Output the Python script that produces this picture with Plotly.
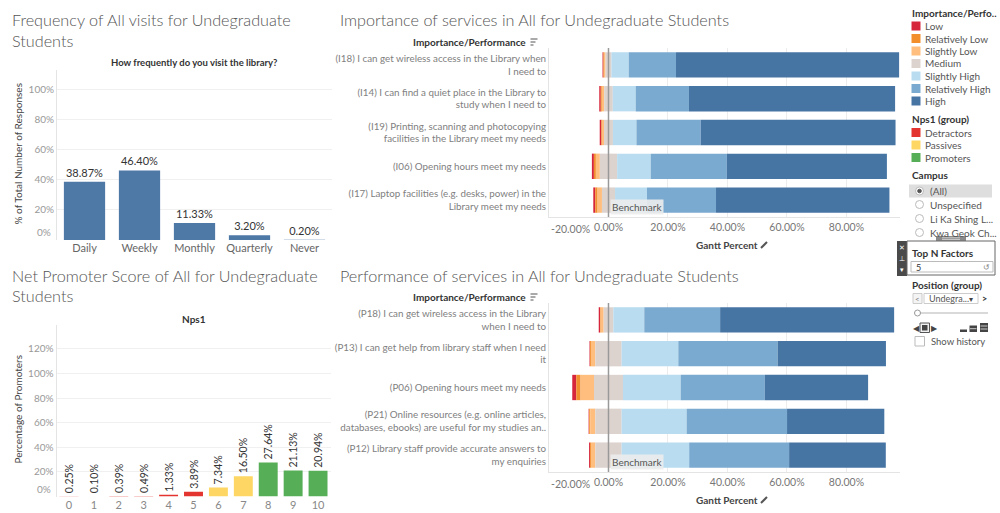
import plotly.graph_objects as go

W, H = 1000, 513
FONT = "Lato, 'Open Sans', sans-serif"

# ---------------- data ----------------
freq_cats = ["Daily", "Weekly", "Monthly", "Quarterly", "Never"]
freq_vals = [38.87, 46.40, 11.33, 3.20, 0.20]
freq_ticks = [0, 20, 40, 60, 80, 100]

nps_cats = ["0", "1", "2", "3", "4", "5", "6", "7", "8", "9", "10"]
nps_vals = [0.25, 0.10, 0.39, 0.49, 1.33, 3.89, 7.34, 16.50, 27.64, 21.13, 20.94]
nps_groups = ["Detractors"] * 6 + ["Passives"] * 2 + ["Promoters"] * 3
nps_ticks = [0, 20, 40, 60, 80, 100, 120]
nps_group_names = ["Detractors", "Passives", "Promoters"]
nps_group_colors = ["#e3342f", "#fdd663", "#56ae57"]

levels = ["Low", "Relatively Low", "Slightly Low", "Medium",
          "Slightly High", "Relatively High", "High"]
level_colors = ["#d6263c", "#f28e2b", "#ffbe7d", "#dcd3cf",
                "#b9dcf0", "#7aaad0", "#4675a4"]

imp_items = [
    "(I18) I can get wireless access in the Library when<br>I need to",
    "(I14) I can find a quiet place in the Library to<br>study when I need to",
    "(I19) Printing, scanning and photocopying<br>facilities in the Library meet my needs",
    "(I06) Opening hours meet my needs",
    "(I17) Laptop facilities (e.g. desks, power) in the<br>Library meet my needs",
]
imp_low = [0.30, 0.50, 0.55, 0.67, 0.67]
imp_rel_low = [0.20, 0.35, 0.20, 0.67, 0.78]
imp_sl_low = [0.50, 0.80, 0.70, 1.34, 1.46]
imp_medium = [2.00, 2.90, 3.00, 5.80, 4.40]
imp_sl_high = [5.80, 7.70, 7.90, 11.30, 10.75]
imp_rel_high = [15.90, 17.90, 21.60, 25.60, 23.20]
imp_high = [75.00, 69.30, 65.50, 53.80, 58.30]

perf_items = [
    "(P18) I can get wireless access in the Library<br>when I need to",
    "(P13) I can get help from library staff when I need<br>it",
    "(P06) Opening hours meet my needs",
    "(P21) Online resources (e.g. online articles,<br>databases, ebooks) are useful for my studies an..",
    "(P12) Library staff provide accurate answers to<br>my enquiries",
]
perf_low = [0.45, 0.20, 1.35, 0.20, 0.35]
perf_rel_low = [0.20, 0.30, 1.46, 0.35, 0.30]
perf_sl_low = [1.00, 1.45, 4.50, 1.70, 1.45]
perf_medium = [3.26, 8.85, 9.75, 8.85, 8.85]
perf_sl_high = [10.40, 19.05, 19.40, 21.85, 22.70]
perf_rel_high = [25.50, 33.40, 28.30, 33.75, 33.60]
perf_high = [58.50, 36.40, 34.70, 32.70, 32.50]

gantt_ticks = [-20, 0, 20, 40, 60, 80]
gantt_tick_labels = ["-20.00%", "0.00%", "20.00%", "40.00%", "60.00%", "80.00%"]

campus_options = ["(All)", "Unspecified", "Li Ka Shing L...", "Kwa Geok Ch..."]


# ---------------- helpers ----------------
def px(x):
    return x / W


def py(y):
    return 1 - y / H


fig = go.Figure()
annotations = []
shapes = []


def text(x, y, s, size=10, color="#555", xanchor="left", yanchor="middle",
         bold=False, angle=0, weight=None, **kw):
    f = dict(size=size, color=color, family=FONT)
    if weight is not None:
        f["weight"] = weight
    annotations.append(dict(
        x=px(x), y=py(y), xref="paper", yref="paper", text=(f"<b>{s}</b>" if bold else s),
        showarrow=False, xanchor=xanchor, yanchor=yanchor, textangle=angle,
        font=f, **kw))


def rect(x0, y0, x1, y1, fill="rgba(0,0,0,0)", line=None, lw=1):
    shapes.append(dict(type="rect", xref="paper", yref="paper",
                       x0=px(x0), x1=px(x1), y0=py(y1), y1=py(y0),
                       fillcolor=fill,
                       line=dict(color=line or "rgba(0,0,0,0)", width=lw if line else 0)))


def circle(cx, cy, r, fill="white", line="#bbb"):
    shapes.append(dict(type="circle", xref="paper", yref="paper",
                       x0=px(cx - r), x1=px(cx + r), y0=py(cy + r), y1=py(cy - r),
                       fillcolor=fill, line=dict(color=line, width=1)))


def hline(x0, x1, y, color="#aaa", w=1):
    shapes.append(dict(type="line", xref="paper", yref="paper",
                       x0=px(x0), x1=px(x1), y0=py(y), y1=py(y),
                       line=dict(color=color, width=w)))


# ---------------- chart 1: frequency ----------------
fig.add_trace(go.Bar(
    x=freq_cats, y=freq_vals, xaxis="x", yaxis="y",
    marker=dict(color="#4e79a7", line=dict(width=0)), width=0.75,
    text=[f"{v:.2f}%" for v in freq_vals], textposition="outside",
    textfont=dict(size=11, color="#333", family=FONT), cliponaxis=False,
    constraintext="none", hoverinfo="skip", showlegend=False))

# ---------------- chart 2: NPS ----------------
color_of = dict(zip(nps_group_names, nps_group_colors))
fig.add_trace(go.Bar(
    x=nps_cats, y=nps_vals, xaxis="x2", yaxis="y2",
    marker=dict(color=[color_of[g] for g in nps_groups], line=dict(width=0)), width=0.76,
    text=[f"{v:.2f}%" for v in nps_vals], textposition="outside", textangle=-90,
    textfont=dict(size=10.5, color="#333", family=FONT), cliponaxis=False,
    constraintext="none", hoverinfo="skip", showlegend=False))


# ---------------- gantt charts ----------------
def add_gantt(series, xa, ya):
    n = len(series[0])
    start = [-(series[0][j] + series[1][j] + series[2][j] + series[3][j] / 2) for j in range(n)]
    cum = list(start)
    for i, vals in enumerate(series):
        fig.add_trace(go.Bar(
            y=list(range(n)), x=vals, base=list(cum), orientation="h",
            xaxis=xa, yaxis=ya, width=0.75,
            marker=dict(color=level_colors[i], line=dict(width=0)),
            name=levels[i], showlegend=False, hoverinfo="skip"))
        cum = [cum[j] + vals[j] for j in range(n)]


add_gantt([imp_low, imp_rel_low, imp_sl_low, imp_medium, imp_sl_high, imp_rel_high, imp_high], "x3", "y3")
add_gantt([perf_low, perf_rel_low, perf_sl_low, perf_medium, perf_sl_high, perf_rel_high, perf_high], "x4", "y4")

# ---------------- axes ----------------
grid = "#f0f0f0"
axline = "#e4e4e4"
tick_font_gray = dict(size=10, color="#999", family=FONT)

layout_axes = dict(
    xaxis=dict(domain=[px(57), px(332)], type="category", showgrid=False, zeroline=False,
               showline=False, ticks="", tickfont=dict(size=11, color="#666", family=FONT),
               anchor="y", fixedrange=True),
    yaxis=dict(domain=[py(240), py(70)], range=[0, 113.3], tickvals=freq_ticks,
               ticktext=[("" if t == 0 else f"{t}%") for t in freq_ticks],
               gridcolor=grid, zeroline=False, showline=True, linecolor=axline,
               ticks="", tickfont=tick_font_gray, anchor="x", fixedrange=True),
    xaxis2=dict(domain=[px(56.5), px(330.5)], type="category", showgrid=False, zeroline=False,
                showline=False, ticks="", tickfont=dict(size=11, color="#888", family=FONT),
                anchor="y2", fixedrange=True),
    yaxis2=dict(domain=[py(496.5), py(325)], range=[0, 139.4], tickvals=nps_ticks,
                ticktext=[("" if t == 0 else f"{t}%") for t in nps_ticks],
                gridcolor=grid, zeroline=False, showline=True, linecolor=axline,
                ticks="", tickfont=tick_font_gray, anchor="x2", fixedrange=True),
)
for xa, ya, items, top, bot in [("xaxis3", "yaxis3", imp_items, 48, 217),
                                 ("xaxis4", "yaxis4", perf_items, 303, 472)]:
    xn = xa.replace("axis", "")
    yn = ya.replace("axis", "")
    layout_axes[xa] = dict(domain=[px(549), px(900)], range=[-20, 98.0],
                           tickvals=gantt_ticks,
                           ticktext=[("" if t == -20 else lab) for t, lab in zip(gantt_ticks, gantt_tick_labels)],
                           gridcolor="#ececec", zeroline=False, showline=True, linecolor=axline,
                           ticks="", tickfont=dict(size=10.5, color="#777", family=FONT),
                           anchor=yn, fixedrange=True)
    layout_axes[ya] = dict(domain=[py(bot), py(top)], range=[len(items) - 0.5, -0.5],
                           tickvals=list(range(len(items))), ticktext=items,
                           showgrid=False, zeroline=False, showline=True, linecolor=axline,
                           ticks="", tickfont=dict(size=9.8, color="#808080", family=FONT),
                           anchor=xn, fixedrange=True)
    # benchmark line
    shapes.append(dict(type="line", xref=xn, yref=f"{yn} domain", x0=0, x1=0, y0=0, y1=1,
                       line=dict(color="#999", width=1.5), layer="above"))
    annotations.append(dict(x=0, xref=xn, y=0, yref=f"{yn} domain", text="Benchmark",
                            xanchor="left", yanchor="bottom", xshift=2, yshift=2,
                            showarrow=False, bgcolor="rgba(236,236,236,0.9)", borderpad=1,
                            font=dict(size=10, color="#555", family=FONT)))
    # -20.00% label pulled inside
    annotations.append(dict(x=-20, xref=xn, y=py(bot + 11.5), yref="paper",
                            text=gantt_tick_labels[0], xanchor="left", yanchor="middle",
                            showarrow=False, font=dict(size=10.5, color="#777", family=FONT)))

# 0% labels sitting just above the baseline
annotations.append(dict(x=px(53), xref="paper", y=0, yref="y", text=f"{freq_ticks[0]}%",
                        xanchor="right", yanchor="bottom", yshift=0, showarrow=False,
                        font=tick_font_gray))
annotations.append(dict(x=px(53), xref="paper", y=0, yref="y2", text=f"{nps_ticks[0]}%",
                        xanchor="right", yanchor="bottom", yshift=0, showarrow=False,
                        font=tick_font_gray))

# ---------------- titles ----------------
TC = "#555"
TS = 16.2
text(10, 19.5, "Frequency of All visits for Undegraduate", size=TS, color=TC, weight=300)
text(10, 40.5, "Students", size=TS, color=TC, weight=300)
text(10, 275, "Net Promoter Score of All for Undegraduate", size=TS, color=TC, weight=300)
text(10, 295.5, "Students", size=TS, color=TC, weight=300)
text(338, 19.5, "Importance of services in All for Undegraduate Students", size=TS, color=TC, weight=300)
text(338, 275, "Performance of services in All for Undegraduate Students", size=TS, color=TC, weight=300)

text(194, 63, "How frequently do you visit the library?", size=9.5, color="#333", xanchor="center", bold=True)
text(194, 319, "Nps1", size=10, color="#333", xanchor="center", bold=True)
text(17.5, 154, "% of Total Number of Responses", size=10, color="#444", xanchor="center", angle=-90)
text(17.5, 409, "Percentage of Promoters", size=10, color="#444", xanchor="center", angle=-90)

for yh in (42, 297):
    text(528, yh, "Importance/Performance", size=10, color="#333", xanchor="right", bold=True)
    hline(530.5, 537.5, yh - 3, color="#555", w=1)
    hline(530.5, 535.5, yh, color="#555", w=1)
    hline(530.5, 533.5, yh + 3, color="#555", w=1)

text(727, 245, "Gantt Percent", size=10, color="#444", xanchor="center", bold=True)
text(727, 500, "Gantt Percent", size=10, color="#444", xanchor="center", bold=True)
for yh in (245, 500):
    shapes.append(dict(type="line", xref="paper", yref="paper", x0=px(761), x1=px(767),
                       y0=py(yh + 3), y1=py(yh - 3), line=dict(color="#555", width=2)))

# ---------------- right panel ----------------
LG = "#555"
text(910, 13.5, "Importance/Perfo..", size=10, color="#333", bold=True)
ys = [26, 38.5, 51, 63.5, 76, 88.5, 101]
for lab, col, yy in zip(levels, level_colors, ys):
    rect(911.5, yy - 4.5, 920.5, yy + 4.5, fill=col)
    text(923, yy, lab, size=10, color=LG)
text(910, 118.5, "Nps1 (group)", size=10, color="#333", bold=True)
for lab, col, yy in zip(nps_group_names, nps_group_colors, [132.5, 145, 157.5]):
    rect(911.5, yy - 4.5, 920.5, yy + 4.5, fill=col)
    text(923, yy, lab, size=10, color=LG)
text(910, 174.5, "Campus", size=10, color="#333", bold=True)
rect(909, 184.5, 992, 197.5, fill="#dedede")
for i, (lab, yy) in enumerate(zip(campus_options, [191, 204.5, 218.5, 232.5])):
    circle(919.5, yy, 4, fill="white", line="#bbb")
    if i == 0:
        circle(919.5, yy, 1.8, fill="#555", line="#555")
    text(928, yy, lab, size=10, color=LG)
rect(936, 236, 966, 241, fill="#8a8a8a")
hline(942, 960, 237.8, color="#ddd", w=0.8)
hline(942, 960, 239.6, color="#ddd", w=0.8)

rect(897, 241, 907, 276, fill="#4a4a4a")
text(902, 247, "✕", size=7, color="white", xanchor="center")
text(902, 258, "⊥", size=7, color="white", xanchor="center")
text(902, 269, "▾", size=7, color="white", xanchor="center")
rect(907, 241, 995, 275, fill="white", line="#666", lw=1)
text(910, 252.5, "Top N Factors", size=10, color="#333", bold=True)
rect(911, 261.5, 993, 272, fill="white", line="#bbb")
text(914, 267, "5", size=9, color="#333")
text(986, 267, "↺", size=8, color="#888", xanchor="center")

text(910, 285, "Position (group)", size=10, color="#333", bold=True)
rect(913, 293.5, 922, 303.5, fill="#f4f4f4", line="#ccc")
text(917.5, 298.5, "<", size=8, color="#777", xanchor="center")
rect(924, 293.5, 978, 303.5, fill="white", line="#ccc")
text(927, 298.5, "Undegra...", size=9, color="#555")
text(971, 298.5, "▾", size=8, color="#444", xanchor="center")
text(984, 298.5, "<b>></b>", size=9, color="#333", xanchor="center")
hline(914, 988, 313, color="#ccc", w=1.5)
circle(917.5, 313, 3, fill="white", line="#999")
text(916, 327.5, "◀", size=8, color="#444", xanchor="center")
rect(920, 323, 929.5, 332.5, fill="#f0f0f0", line="#555")
rect(922, 325, 927.5, 330.5, fill="#444")
text(934.5, 327.5, "▶", size=8, color="#444", xanchor="center")
rect(960, 329.5, 967, 332, fill="#444")
rect(969.5, 325.5, 977, 332, fill="#444")
hline(970, 976.5, 328.7, color="#eee", w=0.8)
rect(980, 323, 988, 332, fill="#444")
hline(980.5, 987.5, 326, color="#eee", w=0.8)
hline(980.5, 987.5, 329, color="#eee", w=0.8)
rect(915, 336.5, 924.5, 346, fill="white", line="#bbb")
text(928.5, 341, "Show history", size=9.5, color=LG)

fig.update_layout(
    width=W, height=H, autosize=False,
    margin=dict(l=0, r=0, t=0, b=0),
    paper_bgcolor="white", plot_bgcolor="white",
    barmode="overlay", bargap=0.25,
    font=dict(family=FONT, color="#555"),
    annotations=annotations, shapes=shapes,
    **layout_axes,
)

fig.write_html("out.html", include_plotlyjs=True, full_html=True,
               config={"displayModeBar": False, "staticPlot": True},
               post_script="document.body.style.margin='0';document.body.style.overflow='hidden';")
